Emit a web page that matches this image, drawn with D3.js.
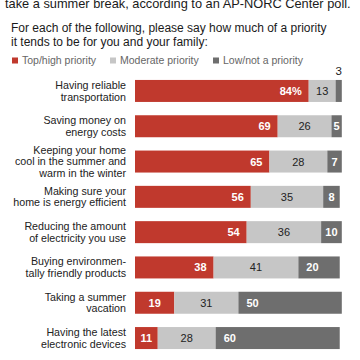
<!DOCTYPE html>
<html>
<head>
<meta charset="utf-8">
<script src="https://cdn.jsdelivr.net/npm/d3@7"></script>
<style>
  body { margin: 0; background: #fff; }
  svg { display: block; font-family: "Liberation Sans", Arial, sans-serif; }
</style>
</head>
<body>
<svg width="360" height="360"></svg>
<script>
var svg = d3.select('svg');

var categories = [
    ['Having reliable', 'transportation'],
    ['Saving money on', 'energy costs'],
    ['Keeping your home', 'cool in the summer and', 'warm in the winter'],
    ['Making sure your', 'home is energy efficient'],
    ['Reducing the amount', 'of electricity you use'],
    ['Buying environmen-', 'tally friendly products'],
    ['Taking a summer', 'vacation'],
    ['Having the latest', 'electronic devices']
];
var highPriority = [84, 69, 65, 56, 54, 38, 19, 11];
var moderatePriority = [13, 26, 28, 35, 36, 41, 31, 28];
var lowPriority = [3, 5, 7, 8, 10, 20, 50, 60];

var seriesNames = ['Top/high priority', 'Moderate priority', 'Low/not a priority'];
var colors = ['#c0392d', '#c6c6c6', '#6e6e6e'];

var rows = categories.map(function(c, i) {
    return { idx: i, label: c, vals: [highPriority[i], moderatePriority[i], lowPriority[i]] };
});

var x = d3.scaleLinear().domain([0, 100]).range([135, 341.8]);
var y = d3.scaleBand()
    .domain(d3.range(categories.length))
    .range([73.3, 355.7])
    .paddingInner(0.377)
    .paddingOuter(0.1885);

// title + subtitle
svg.append('text')
    .attr('x', 5).attr('y', 7.5)
    .attr('font-size', 12.8).attr('fill', '#1a1a1a')
    .text('take a summer break, according to an AP-NORC Center poll.');

svg.append('text')
    .attr('x', 11).attr('y', 32)
    .attr('font-size', 12).attr('fill', '#1a1a1a')
    .selectAll('tspan')
    .data(['For each of the following, please say how much of a priority',
           'it tends to be for you and your family:'])
    .enter().append('tspan')
        .attr('x', 11)
        .attr('dy', (d, i) => i ? 14 : 0)
        .text(d => d);

// legend
var legendX = [12, 110, 213];
var legend = svg.append('g')
    .selectAll('g')
    .data(seriesNames)
    .enter().append('g')
        .attr('transform', (d, i) => 'translate(' + legendX[i] + ',0)');
legend.append('rect')
    .attr('x', 0).attr('y', 57.5)
    .attr('width', 6).attr('height', 6)
    .attr('fill', (d, i) => colors[i]);
legend.append('text')
    .attr('x', 10).attr('y', 64)
    .attr('font-size', 10.5).attr('fill', '#666')
    .text(d => d);

// category labels
var labels = svg.append('g')
    .selectAll('text')
    .data(rows)
    .enter().append('text')
        .attr('text-anchor', 'end')
        .attr('font-size', 10.7)
        .attr('fill', '#222');
labels.each(function(d) {
    var n = d.label.length;
    var cy = y(d.idx) + y.bandwidth() / 2;
    d3.select(this).selectAll('tspan')
        .data(d.label)
        .enter().append('tspan')
            .attr('x', 126)
            .attr('y', (t, j) => cy + (j - (n - 1) / 2) * 11.6 + 3.8)
            .text(t => t);
});

// stacked bars
var bars = svg.append('g')
    .selectAll('g')
    .data(rows)
    .enter().append('g');

bars.each(function(d) {
    var g = d3.select(this);
    var start = 0;
    d.vals.forEach(function(v, k) {
        var x0 = x(start), x1 = x(start + v);
        start += v;
        var top = y(d.idx), h = y.bandwidth();
        g.append('rect')
            .attr('x', x0).attr('y', top)
            .attr('width', x1 - x0).attr('height', h)
            .attr('fill', colors[k]);

        var w = x1 - x0;
        var tx, anchor, ty = top + h / 2 + 4;
        if (d.idx === 0 && k === 2) {
            // tiny segment: label above
            g.append('text')
                .attr('x', (x0 + x1) / 2).attr('y', top - 5)
                .attr('text-anchor', 'middle')
                .attr('font-size', 11.5).attr('fill', '#222')
                .text(v);
            return;
        }
        if (k === 0) {
            if (w < 50) { tx = (x0 + x1) / 2; anchor = 'middle'; }
            else { tx = x1 - 7; anchor = 'end'; }
        } else if (k === 1) {
            tx = (x0 + x1) / 2; anchor = 'middle';
        } else {
            if (w < 30) { tx = (x0 + x1) / 2; anchor = 'middle'; }
            else { tx = x0 + 8; anchor = 'start'; }
        }
        g.append('text')
            .attr('x', tx).attr('y', ty)
            .attr('text-anchor', anchor)
            .attr('font-size', 11)
            .attr('font-weight', k === 1 ? 'normal' : 'bold')
            .attr('fill', k === 1 ? '#222' : '#fff')
            .text(d.idx === 0 && k === 0 ? v + '%' : v);
    });
});
</script>
</body>
</html>
